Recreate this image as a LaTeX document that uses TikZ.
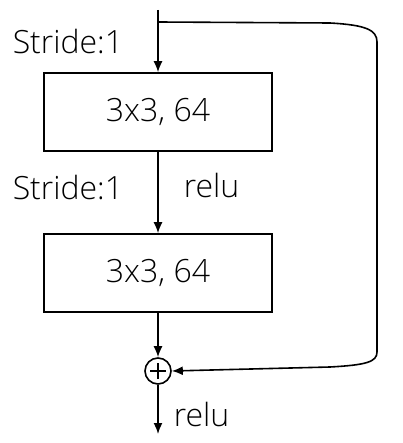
\documentclass[tikz,border=0pt]{standalone}
\usepackage{fontspec}
\setmainfont{Open Sans Light}
\usetikzlibrary{arrows.meta}
\begin{document}
\begin{tikzpicture}[x=1pt,y=-1pt,
  line width=1.6pt,
  conv/.style={draw, minimum width=228pt, minimum height=78pt, font=\fontsize{32}{36}\selectfont},
  lbl/.style={anchor=west, inner sep=0pt, font=\fontsize{32}{36}\selectfont},
  arr/.style={-{Latex[length=11pt,width=9pt]}},
  sum/.style={draw, circle, minimum size=26pt, inner sep=0pt}]
\useasboundingbox (0,0) rectangle (402,443);
% main path
\coordinate (in) at (158,10);
\coordinate (split) at (158,22);
\node[conv] (c1) at (158,112) {3x3, 64};
\node[conv] (c2) at (158,273) {3x3, 64};
\node[sum] (add) at (158,371) {};
\draw[line width=1.3pt] ([xshift=-8pt]add.center) -- ([xshift=8pt]add.center)
      ([yshift=-8pt]add.center) -- ([yshift=8pt]add.center);
\coordinate (out) at (158,434);
\draw[arr] (in) -- (c1);
\draw[arr] (c1) -- (c2);
\draw[arr] (c2) -- (add);
\draw[arr] (add) -- (out);
% identity shortcut
\draw[arr] (split) -- (330,23) .. controls (366,25) and (377,30) .. (377,42)
  -- (377,352) .. controls (377,362) and (366,365) .. (330,367) -- (add.east);
% labels
\node[lbl] (s1) at (12,42) {Stride:1};
\node[lbl] (s2) at (12,188) {Stride:1};
\node[lbl] (r1) at (183,186) {relu};
\node[lbl] (r2) at (173,414) {relu};
\end{tikzpicture}
\end{document}
